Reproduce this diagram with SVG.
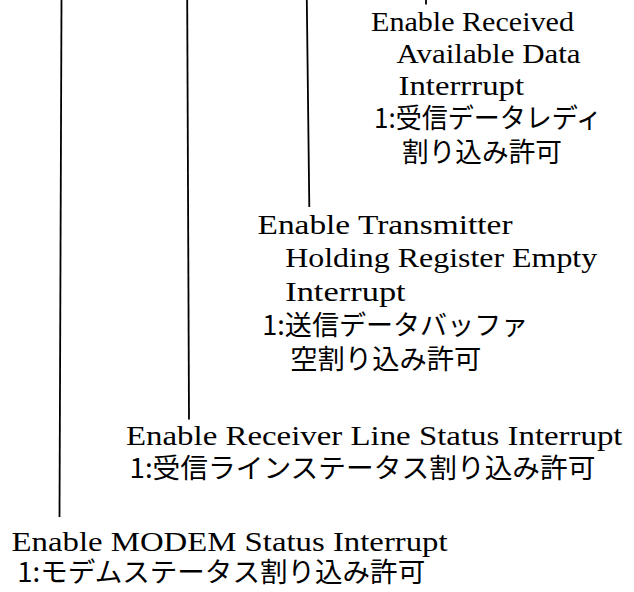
<svg xmlns="http://www.w3.org/2000/svg" width="634" height="592" viewBox="0 0 634 592">
<style>
.bg{fill:#ffffff}
.en{font-family:"Liberation Serif","DejaVu Serif",serif;font-size:27px;fill:#000}
.ja{font-family:"Noto Sans CJK JP","Noto Sans",sans-serif;font-size:27px;fill:#000}
.ln{stroke:#000;stroke-width:1.8;fill:none}
</style>
<rect class="bg" x="0" y="0" width="634" height="592"/>
<g id="connectors">
<line class="ln" x1="61.5" y1="0" x2="59.5" y2="517"/>
<line class="ln" x1="187.2" y1="0" x2="189" y2="419.5"/>
<line class="ln" x1="306.8" y1="0" x2="309.3" y2="207"/>
<line class="ln" x1="426" y1="0" x2="426" y2="4.5"/>
</g>
<g id="node-rda">
<text class="en" x="371" y="30.7" textLength="203" lengthAdjust="spacingAndGlyphs">Enable Received</text>
<text class="en" x="396.5" y="63.3" textLength="184" lengthAdjust="spacingAndGlyphs">Available Data</text>
<text class="en" x="398.5" y="95" textLength="125.5" lengthAdjust="spacingAndGlyphs">Interrrupt</text>
<text class="ja" x="374" y="128" textLength="228" lengthAdjust="spacingAndGlyphs">1:受信データレディ</text>
<text class="ja" x="402" y="161.5" textLength="160" lengthAdjust="spacingAndGlyphs">割り込み許可</text>
</g>
<g id="node-thre">
<text class="en" x="257.5" y="234.3" textLength="255" lengthAdjust="spacingAndGlyphs">Enable Transmitter</text>
<text class="en" x="285.2" y="267.3" textLength="312" lengthAdjust="spacingAndGlyphs">Holding Register Empty</text>
<text class="en" x="285.2" y="301" textLength="120.5" lengthAdjust="spacingAndGlyphs">Interrupt</text>
<text class="ja" x="262.3" y="335" textLength="266" lengthAdjust="spacingAndGlyphs">1:送信データバッファ</text>
<text class="ja" x="290.3" y="369" textLength="191" lengthAdjust="spacingAndGlyphs">空割り込み許可</text>
</g>
<g id="node-rls">
<text class="en" x="126" y="445" textLength="496.5" lengthAdjust="spacingAndGlyphs">Enable Receiver Line Status Interrupt</text>
<text class="ja" x="129.5" y="478" textLength="466" lengthAdjust="spacingAndGlyphs">1:受信ラインステータス割り込み許可</text>
</g>
<g id="node-ms">
<text class="en" x="11.6" y="550.5" textLength="436" lengthAdjust="spacingAndGlyphs">Enable MODEM Status Interrupt</text>
<text class="ja" x="17.2" y="582" textLength="408" lengthAdjust="spacingAndGlyphs">1:モデムステータス割り込み許可</text>
</g>
</svg>
